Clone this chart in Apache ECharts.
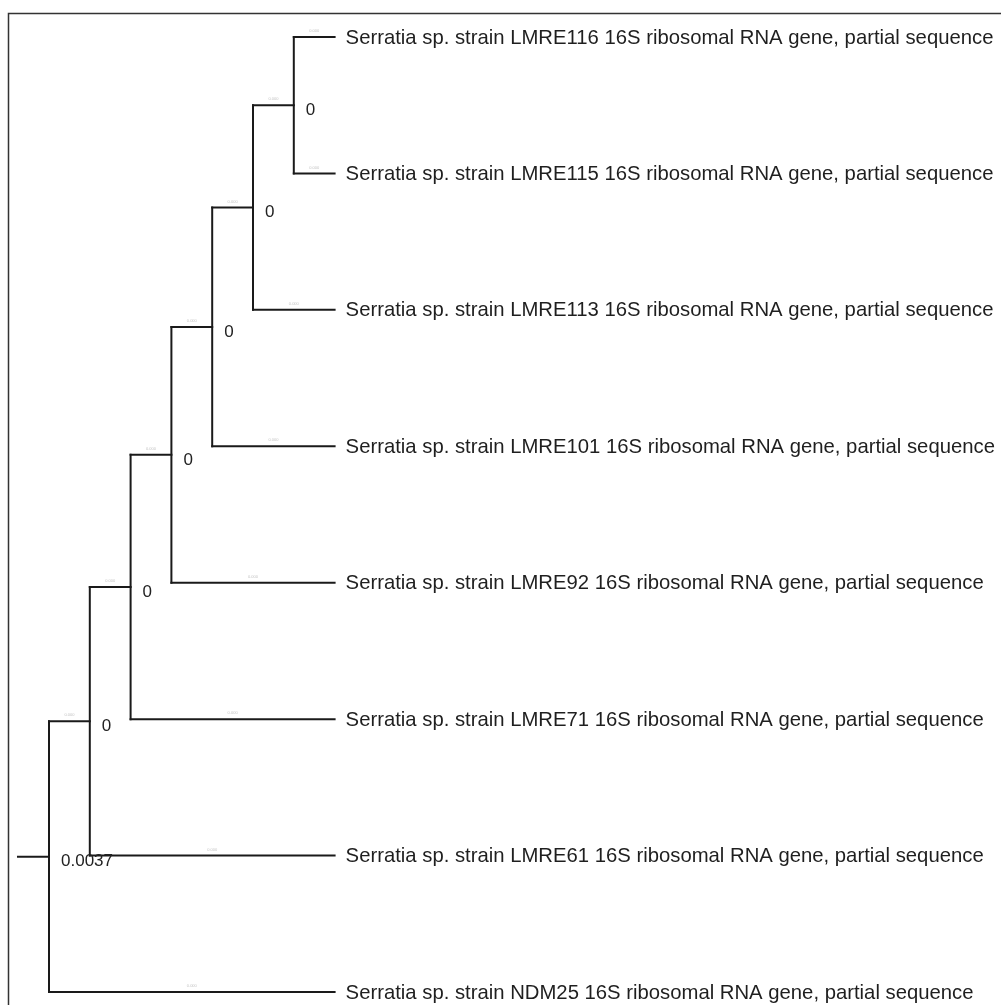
<!DOCTYPE html>
<html>
<head>
<meta charset="utf-8">
<script src="https://cdn.jsdelivr.net/npm/echarts@6/dist/echarts.min.js"></script>
<style>
html,body{margin:0;padding:0;background:#fff;}
#chart{width:1001px;height:1005px;}
</style>
</head>
<body>
<div id="chart"></div>
<script>
// Leaves, top to bottom
const leafNames = [
  'Serratia sp. strain LMRE116 16S ribosomal RNA gene, partial sequence',
  'Serratia sp. strain LMRE115 16S ribosomal RNA gene, partial sequence',
  'Serratia sp. strain LMRE113 16S ribosomal RNA gene, partial sequence',
  'Serratia sp. strain LMRE101 16S ribosomal RNA gene, partial sequence',
  'Serratia sp. strain LMRE92 16S ribosomal RNA gene, partial sequence',
  'Serratia sp. strain LMRE71 16S ribosomal RNA gene, partial sequence',
  'Serratia sp. strain LMRE61 16S ribosomal RNA gene, partial sequence',
  'Serratia sp. strain NDM25 16S ribosomal RNA gene, partial sequence'
];
const leafDepth = 7;
// Internal nodes (n0 = root)
const nodeIds     = ['n0', 'n1', 'n2', 'n3', 'n4', 'n5', 'n6'];
const nodeDepth   = [0, 1, 2, 3, 4, 5, 6];
const nodeChildA  = ['n1', 'n2', 'n3', 'n4', 'n5', 'n6', 'L0'];
const nodeChildB  = ['L7', 'L6', 'L5', 'L4', 'L3', 'L2', 'L1'];
const nodeSupport = ['0.0037', '0', '0', '0', '0', '0', '0'];
const rootStubStart = -0.76;
const branchLabel = '0.000';

// ---- build geometry in data units ----
function pos(id) {
  if (id[0] === 'L') { const i = +id.slice(1); return [leafDepth, i]; }
  const k = nodeIds.indexOf(id);
  const a = pos(nodeChildA[k]), b = pos(nodeChildB[k]);
  return [nodeDepth[k], (a[1] + b[1]) / 2];
}
const segs = [];
const branchMids = [];
nodeIds.forEach((id, k) => {
  const p = pos(id);
  const a = pos(nodeChildA[k]), b = pos(nodeChildB[k]);
  segs.push([p[0], a[1], p[0], b[1]]);
  [a, b].forEach(c => {
    segs.push([p[0], c[1], c[0], c[1]]);
    branchMids.push([(p[0] + c[0]) / 2, c[1], branchLabel]);
  });
});
const rootP = pos('n0');
segs.push([rootStubStart, rootP[1], rootP[0], rootP[1]]);

const supportData = nodeIds.map((id, k) => { const p = pos(id); return [p[0], p[1], nodeSupport[k]]; });
const leafData = leafNames.map((n, i) => [leafDepth, i, n]);

const chart = echarts.init(document.getElementById('chart'));
const FONT = '"Liberation Sans", Arial, sans-serif';
chart.setOption({
  animation: false,
  backgroundColor: '#fff',
  grid: { left: 49, top: 37, width: 285.6, height: 955 },
  xAxis: { type: 'value', min: 0, max: 7, show: false },
  yAxis: { type: 'value', min: 0, max: 7, inverse: true, show: false },
  graphic: [{
    type: 'rect', shape: { x: 8.5, y: 13.5, width: 1200, height: 1200 },
    style: { fill: null, stroke: '#333', lineWidth: 1.5 }, silent: true, z: 0
  }],
  series: [
    {
      type: 'custom', clip: false, silent: true,
      data: segs,
      renderItem: (params, api) => {
        const p1 = api.coord([api.value(0), api.value(1)]);
        const p2 = api.coord([api.value(2), api.value(3)]);
        return { type: 'line', shape: { x1: p1[0], y1: p1[1], x2: p2[0], y2: p2[1] },
          style: { stroke: '#1a1a1a', lineWidth: 2, lineCap: 'square' } };
      }
    },
    {
      type: 'custom', clip: false, silent: true,
      data: branchMids,
      renderItem: (params, api) => {
        const p = api.coord([api.value(0), api.value(1)]);
        return { type: 'text', x: p[0], y: p[1] - 4,
          style: { text: branchLabel, font: '4px ' + FONT, fill: '#c4c4c4', align: 'center', verticalAlign: 'bottom' } };
      }
    },
    {
      type: 'custom', clip: false, silent: true,
      data: supportData,
      renderItem: (params, api) => {
        const p = api.coord([api.value(0), api.value(1)]);
        return { type: 'text', x: p[0] + 12, y: p[1] + 5,
          style: { text: supportData[params.dataIndex][2], font: '17px ' + FONT, fill: '#222', align: 'left', verticalAlign: 'middle' } };
      }
    },
    {
      type: 'custom', clip: false, silent: true,
      data: leafData,
      renderItem: (params, api) => {
        const p = api.coord([api.value(0), api.value(1)]);
        return { type: 'text', x: p[0] + 11, y: p[1] + 1,
          style: { text: leafData[params.dataIndex][2], font: '20.3px ' + FONT, fill: '#1f1f1f', align: 'left', verticalAlign: 'middle' } };
      }
    }
  ]
});
</script>
</body>
</html>
